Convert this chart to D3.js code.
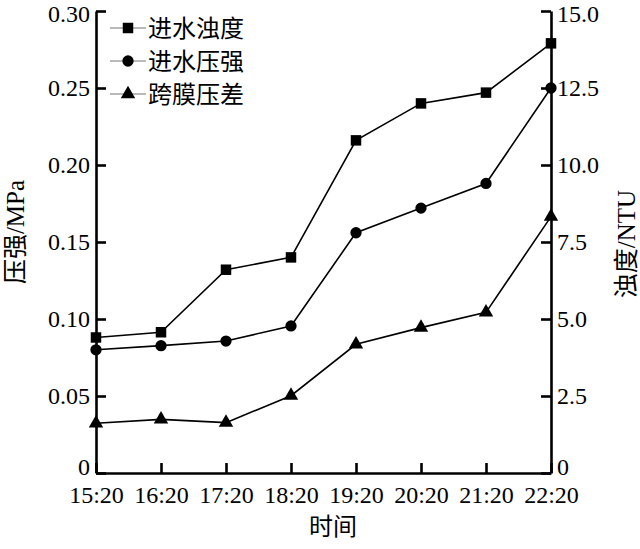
<!DOCTYPE html>
<html>
<head>
<meta charset="utf-8">
<script src="https://cdn.jsdelivr.net/npm/d3@7"></script>
<style>
  body { margin: 0; background: #fff; }
  svg { display: block; }
  text { fill: #000; }
</style>
</head>
<body>
<svg id="chart" width="640" height="549"></svg>
<script>
// ---- data ----
const categories = ["15:20", "16:20", "17:20", "18:20", "19:20", "20:20", "21:20", "22:20"];
const turbidity = [4.4, 4.57, 6.6, 7.0, 10.8, 12.0, 12.35, 13.95];           // NTU (right axis)
const inletPressure = [0.080, 0.0827, 0.0857, 0.0955, 0.156, 0.172, 0.188, 0.250]; // MPa (left axis)
const tmp = [0.0323, 0.0348, 0.0327, 0.0502, 0.0836, 0.0944, 0.1043, 0.1665];     // MPa (left axis)
const leftTicks = [0, 0.05, 0.10, 0.15, 0.20, 0.25, 0.30];
const rightTicks = [0, 2.5, 5.0, 7.5, 10.0, 12.5, 15.0];
const legendLabels = ["进水浊度", "进水压强", "跨膜压差"];

const serif = "'Liberation Serif', 'Times New Roman', 'Noto Sans CJK SC', serif";
const svg = d3.select("#chart");

const x = d3.scalePoint().domain(categories).range([96, 551]).padding(0);
const yL = d3.scaleLinear().domain([0, 0.30]).range([473, 11]);
const yR = d3.scaleLinear().domain([0, 15]).range([473, 11]);

// axes
const axL = d3.axisLeft(yL).tickValues(leftTicks).tickSizeInner(-10).tickSizeOuter(0).tickPadding(6)
  .tickFormat(d => d === 0 ? "0" : d3.format(".2f")(d));
const axR = d3.axisRight(yR).tickValues(rightTicks).tickSizeInner(-10).tickSizeOuter(0).tickPadding(6)
  .tickFormat(d => d === 0 ? "0" : d3.format(".1f")(d));
const axB = d3.axisBottom(x).tickSizeInner(-10).tickSizeOuter(0).tickPadding(13);

function styleAxis(g) {
  g.selectAll("path.domain").attr("stroke", "#000").attr("stroke-width", 2.6);
  g.selectAll(".tick line").attr("stroke", "#000").attr("stroke-width", 2.6);
  g.selectAll(".tick text").style("font-family", serif).style("font-size", "24px").attr("fill", "#000");
}

const gL = svg.append("g").attr("transform", "translate(96,0)").call(axL).call(styleAxis);
const gR = svg.append("g").attr("transform", "translate(551,0)").call(axR).call(styleAxis);
svg.append("g").attr("transform", "translate(0,473)").call(axB).call(styleAxis);
// the "0" labels sit a little above the baseline, the top labels a little below the top tick
gL.selectAll(".tick text").filter(d => d === 0).attr("y", -6);
gR.selectAll(".tick text").filter(d => d === 0).attr("y", -6);
gL.selectAll(".tick text").filter(d => d === 0.30).attr("y", 3);
gR.selectAll(".tick text").filter(d => d === 15).attr("y", 3);

// lines
const lineL = d3.line().x((d, i) => x(categories[i])).y(d => yL(d));
const lineR = d3.line().x((d, i) => x(categories[i])).y(d => yR(d));

svg.append("path").datum(turbidity).attr("d", lineR).attr("fill", "none").attr("stroke", "#000").attr("stroke-width", 1.6);
svg.append("path").datum(inletPressure).attr("d", lineL).attr("fill", "none").attr("stroke", "#000").attr("stroke-width", 1.6);
svg.append("path").datum(tmp).attr("d", lineL).attr("fill", "none").attr("stroke", "#000").attr("stroke-width", 1.6);

const sq = d3.symbol().type(d3.symbolSquare).size(110);
const ci = d3.symbol().type(d3.symbolCircle).size(100);
const tr = d3.symbol().type(d3.symbolTriangle).size(90);

svg.append("g").selectAll("path").data(turbidity).join("path")
  .attr("d", sq).attr("transform", (d, i) => `translate(${x(categories[i])},${yR(d)})`).attr("fill", "#000");
svg.append("g").selectAll("path").data(inletPressure).join("path")
  .attr("d", ci).attr("transform", (d, i) => `translate(${x(categories[i])},${yL(d)})`).attr("fill", "#000");
svg.append("g").selectAll("path").data(tmp).join("path")
  .attr("d", tr).attr("transform", (d, i) => `translate(${x(categories[i])},${yL(d)})`).attr("fill", "#000");

// legend
const legSymbols = [sq, ci, tr];
const leg = svg.append("g");
legendLabels.forEach((lab, i) => {
  const yy = 28 + i * 33;
  leg.append("line").attr("x1", 110).attr("x2", 146).attr("y1", yy).attr("y2", yy)
    .attr("stroke", "#777").attr("stroke-width", 1.2);
  leg.append("path").attr("d", legSymbols[i]).attr("transform", `translate(128,${yy})`).attr("fill", "#000");
  leg.append("text").attr("x", 148).attr("y", yy).attr("dy", "0.36em")
    .style("font-family", "'Noto Sans CJK SC', sans-serif").style("font-size", "24px").text(lab);
});

// axis titles
svg.append("text").attr("transform", "translate(15,232) rotate(-90)").attr("text-anchor", "middle").attr("dy", "0.35em")
  .style("font-family", serif).style("font-size", "25px").text("压强/MPa");
svg.append("text").attr("transform", "translate(626,244) rotate(-90)").attr("text-anchor", "middle").attr("dy", "0.35em")
  .style("font-family", serif).style("font-size", "25px").text("浊度/NTU");
svg.append("text").attr("x", 333).attr("y", 527).attr("text-anchor", "middle").attr("dy", "0.35em")
  .style("font-family", serif).style("font-size", "24px").text("时间");
</script>
</body>
</html>
